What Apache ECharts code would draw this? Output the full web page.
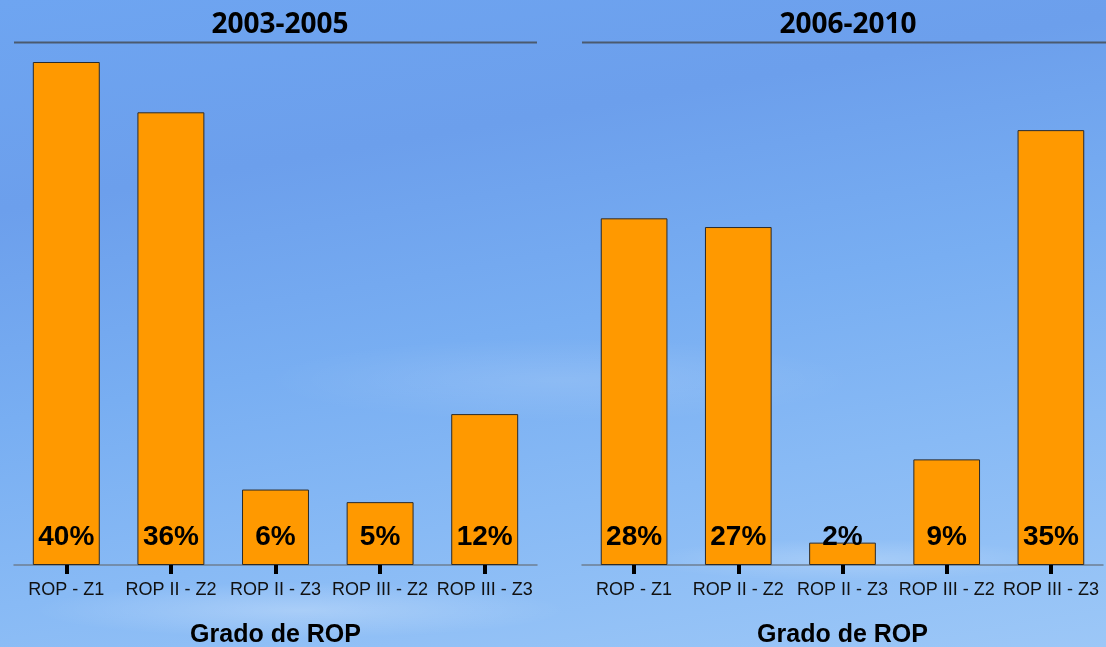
<!DOCTYPE html>
<html>
<head>
<meta charset="utf-8">
<title>Grado de ROP</title>
<script src="https://cdn.jsdelivr.net/npm/echarts@6/dist/echarts.min.js"></script>
<style>
  html, body { margin: 0; padding: 0; }
  body {
    width: 1106px; height: 647px; overflow: hidden;
    background:
      radial-gradient(ellipse 380px 40px at 300px 610px, rgba(255,255,255,0.25), rgba(255,255,255,0) 70%),
      radial-gradient(ellipse 300px 30px at 850px 560px, rgba(255,255,255,0.2), rgba(255,255,255,0) 70%),
      radial-gradient(ellipse 420px 60px at 560px 380px, rgba(255,255,255,0.12), rgba(255,255,255,0) 70%),
      linear-gradient(170deg, #6ea5f1 0%, #6c9fec 25%, #78aef2 50%, #88baf5 72%, #9cc7f7 100%);
  }
  #chart { width: 1106px; height: 647px; }
</style>
</head>
<body>
<div id="chart"></div>
<script>
// categorias y valores (%)
const categories = ['ROP - Z1', 'ROP II - Z2', 'ROP II - Z3', 'ROP III - Z2', 'ROP III - Z3'];
const periods = ['2003-2005', '2006-2010'];
const values2003 = [40, 36, 6, 5, 12];
const values2006 = [27.9, 27.2, 1.8, 8.5, 35];

const chart = echarts.init(document.getElementById('chart'));

const labelFont = 'Liberation Sans, Arial, sans-serif';

const makeX = (gridIndex) => ({
  type: 'category',
  gridIndex: gridIndex,
  data: categories,
  name: 'Grado de ROP',
  nameLocation: 'middle',
  nameGap: 58,
  nameTextStyle: { fontFamily: labelFont, fontSize: 25, fontWeight: 'bold', color: '#000' },
  axisLine: { show: true, lineStyle: { color: '#6e7f93', width: 1.5 } },
  axisTick: { show: true, alignWithLabel: true, length: 9, lineStyle: { color: '#000', width: 4 } },
  axisLabel: { fontFamily: labelFont, fontSize: 18, color: '#111', margin: 16, interval: 0 }
});

const makeY = (gridIndex) => ({
  type: 'value',
  gridIndex: gridIndex,
  min: 0,
  max: 40,
  show: false,
  splitLine: { show: false }
});

const makeBar = (idx, values) => ({
  type: 'bar',
  xAxisIndex: idx,
  yAxisIndex: idx,
  data: values,
  barWidth: '64%',
  itemStyle: { color: '#ff9900', borderColor: '#2b2b2b', borderWidth: 1 },
  label: {
    show: true,
    position: 'insideBottom',
    distance: 14,
    formatter: p => Math.round(p.value) + '%',
    fontFamily: labelFont,
    fontSize: 28,
    fontWeight: 'bold',
    color: '#000'
  },
  silent: true
});

chart.setOption({
  backgroundColor: 'transparent',
  animation: false,
  title: [
    { text: periods[0], left: 275, top: 6, textAlign: 'center',
      textStyle: { fontFamily: 'Open Sans', fontSize: 28, fontWeight: 'bold', color: '#000' } },
    { text: periods[1], left: 843, top: 6, textAlign: 'center',
      textStyle: { fontFamily: 'Open Sans', fontSize: 28, fontWeight: 'bold', color: '#000' } }
  ],
  // lineas bajo los titulos
  graphic: [
    { type: 'line', shape: { x1: 14, y1: 42.5, x2: 537, y2: 42.5 }, style: { stroke: '#4b5a6e', lineWidth: 2 } },
    { type: 'line', shape: { x1: 582, y1: 42.5, x2: 1106, y2: 42.5 }, style: { stroke: '#4b5a6e', lineWidth: 2 } }
  ],
  grid: [
    { left: 14, right: 569, top: 62, bottom: 82, outerBoundsMode: 'none' },
    { left: 582, right: 3, top: 68, bottom: 82, outerBoundsMode: 'none' }
  ],
  xAxis: [makeX(0), makeX(1)],
  yAxis: [makeY(0), makeY(1)],
  series: [makeBar(0, values2003), makeBar(1, values2006)]
});
</script>
</body>
</html>
